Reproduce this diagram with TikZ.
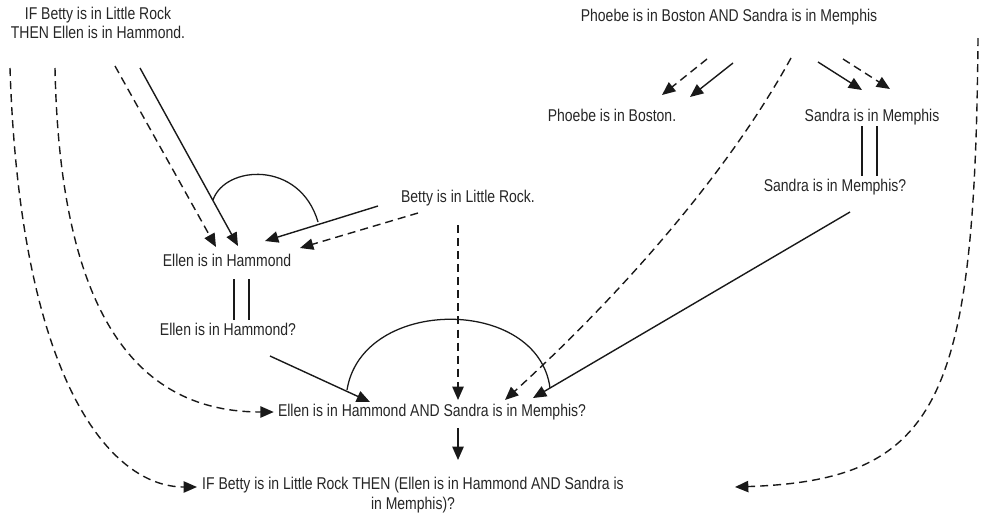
\documentclass[tikz,border=0pt]{standalone}
\usepackage{fontspec}
\setmainfont{Liberation Sans}[FakeStretch=0.82]
\usetikzlibrary{arrows.meta,calc}

\begin{document}
\begin{tikzpicture}[x=0.75pt,y=-0.75pt,
  lbl/.style={inner sep=0pt, text=black!85, font=\fontsize{12.8pt}{14.5pt}\selectfont, align=center},
  one/.style={text height=9.4pt, text depth=2.7pt},
  sol/.style={line width=1.05pt, draw=black!90},
  dsh/.style={line width=1.05pt, draw=black!90, dash pattern=on 6pt off 3.8pt},
  tip/.style={-{Triangle[length=10pt,width=8.5pt]}},
  bond/.style={line width=0.95pt, draw=black!90}
]
\useasboundingbox (0,0) rectangle (984,515);

% statements
\node[lbl] (T1) at (98,23) {IF Betty is in Little Rock\\THEN Ellen is in Hammond.};
\node[lbl,one] (T2) at (729,17) {Phoebe is in Boston AND Sandra is in Memphis};
\node[lbl,one] (T3) at (612,117) {Phoebe is in Boston.};
\node[lbl,one] (T4) at (872,117) {Sandra is in Memphis};
\node[lbl,one] (T5) at (835,187) {Sandra is in Memphis?};
\node[lbl,one] (T6) at (468,198) {Betty is in Little Rock.};
\node[lbl,one] (T8) at (227,262) {Ellen is in Hammond};
\node[lbl,one] (T9) at (228,331) {Ellen is in Hammond?};
\node[lbl,one] (T7) at (432,412) {Ellen is in Hammond AND Sandra is in Memphis?};
\node[lbl] (T10) at (413,495) {IF Betty is in Little Rock THEN (Ellen is in Hammond AND Sandra is\\in Memphis)?};

% long dashed links on the left
\draw[dsh,tip] ($(T1)+(-88,45)$) .. controls (20,380) and (110,487) .. ($(T10.west)+(-5,-8)$);
\draw[dsh,tip] ($(T1)+(-43,45)$) .. controls (60,320) and (140,412) .. ($(T7.west)+(-4,0)$);

% conditional elimination into "Ellen is in Hammond"
\draw[dsh,tip] ($(T1)+(17,43)$) -- ($(T8)+(-11,-15)$);
\draw[sol,tip] ($(T1)+(42,45)$) -- ($(T8)+(11,-16)$);
\draw[sol,tip] ($(T6)+(-90,8)$) -- ($(T8)+(38,-21)$);
\draw[dsh,tip] ($(T6)+(-50,15)$) -- ($(T8)+(73,-14)$);
\draw[bond] (213,200) .. controls (225,165) and (300,160) .. (318,222);

% double bars
\draw[bond] ($(T8)+(7,17)$) -- ($(T9)+(6,-11)$);
\draw[bond] ($(T8)+(22,17)$) -- ($(T9)+(21,-11)$);
\draw[bond] ($(T4)+(-10,9)$) -- ($(T5)+(27,-11)$);
\draw[bond] ($(T4)+(5,9)$) -- ($(T5)+(42,-11)$);

% conjunction elimination on the right
\draw[dsh,tip] ($(T2)+(-22,42)$) -- ($(T3)+(50,-22)$);
\draw[sol,tip] ($(T2)+(4,46)$) -- ($(T3)+(78,-20)$);
\draw[sol,tip] ($(T2)+(89,45)$) -- ($(T4)+(-10,-27)$);
\draw[dsh,tip] ($(T2)+(114,42)$) -- ($(T4)+(18,-28)$);
\draw[dsh,tip] ($(T2)+(62,41)$) .. controls (725,178) and (615,300) .. ($(T7)+(73,-12)$);

% conjunction introduction
\draw[dsh,tip] ($(T6)+(-10,27)$) -- ($(T7)+(26,-12)$);
\draw[sol,tip] ($(T9)+(42,25)$) -- ($(T7)+(-62,-10)$);
\draw[sol,tip] ($(T5)+(15,25)$) -- ($(T7)+(101,-14)$);
\draw[bond] (347,390) .. controls (362,296) and (538,296) .. (550,388);

% conclusion
\draw[sol,tip] ($(T7)+(26,16)$) -- ($(T10)+(45,-35)$);
\draw[dsh,tip] ($(T2)+(249,21)$) .. controls (975,400) and (940,480) .. ($(T10)+(322,-8)$);
\end{tikzpicture}
\end{document}
